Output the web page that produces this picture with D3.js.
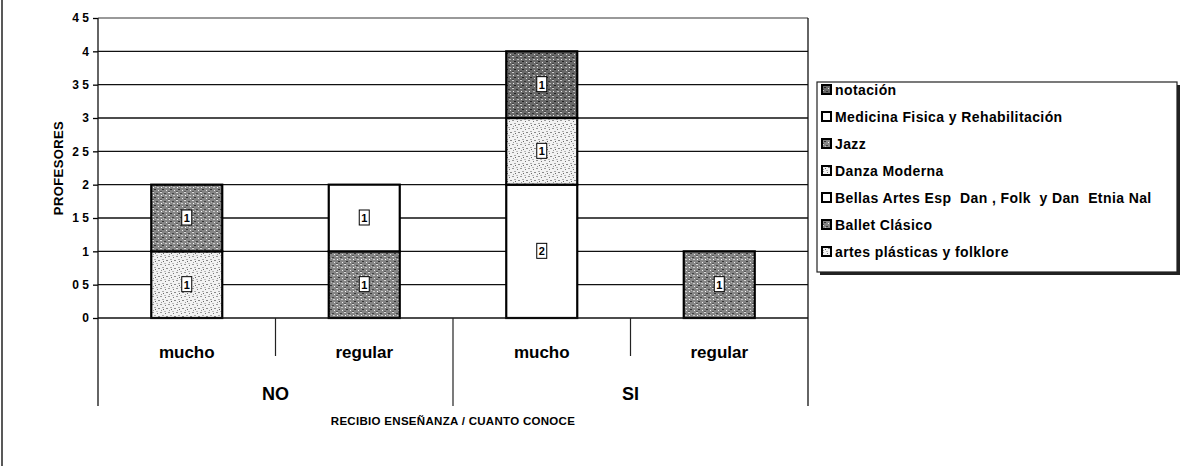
<!DOCTYPE html>
<html>
<head>
<meta charset="utf-8">
<script src="https://cdn.jsdelivr.net/npm/d3@7"></script>
<style>
  body { margin: 0; background: #fff; }
  svg { display: block; font-family: "Liberation Sans", Arial, sans-serif; }
  .tick text { font-weight: bold; }
  text { white-space: pre; }
</style>
</head>
<body>
<svg id="chart" width="1195" height="466"></svg>
<script>
// data
var groupNames = ["NO", "NO", "SI", "SI"];
var levelNames = ["mucho", "regular", "mucho", "regular"];
var seriesNames = [
    "artes plásticas y folklore",
    "Ballet Clásico",
    "Bellas Artes Esp  Dan , Folk  y Dan  Etnia Nal",
    "Danza Moderna",
    "Jazz",
    "Medicina Física y Rehabilitación",
    "notación"
];
var artesPlasticas = [1, 0, 0, 0];
var balletClasico  = [0, 1, 0, 1];
var bellasArtes    = [0, 0, 2, 0];
var danzaModerna   = [0, 0, 1, 0];
var jazz           = [1, 0, 0, 0];
var medicina       = [0, 1, 0, 0];
var notacion       = [0, 0, 1, 0];
var yTicks = [0, 0.5, 1, 1.5, 2, 2.5, 3, 3.5, 4, 4.5];
var yTickLabels = ["0", "0 5", "1", "1 5", "2", "2 5", "3", "3 5", "4", "4 5"];
var legendLabels = ["notación", "Medicina Fisica y Rehabilitación", "Jazz", "Danza Moderna",
    "Bellas Artes Esp  Dan , Folk  y Dan  Etnia Nal", "Ballet Clásico", "artes plásticas y folklore"];

var seriesValues = [artesPlasticas, balletClasico, bellasArtes, danzaModerna, jazz, medicina, notacion];
// fills per series: light speckle, dark, white, light speckle, dark, white, dark
var seriesFill = ["url(#light)", "url(#dark)", "#fff", "url(#light)", "url(#dark)", "#fff", "url(#dark2)"];

var svg = d3.select("#chart");

// patterns (fixed tiles, look of the scanned hatching)
var defs = svg.append("defs");
function makePattern(id, bg, dots) {
    var p = defs.append("pattern").attr("id", id)
        .attr("patternUnits", "userSpaceOnUse").attr("width", 8).attr("height", 8);
    p.append("rect").attr("width", 8).attr("height", 8).attr("fill", bg);
    dots.forEach(function(d) {
        p.append("rect").attr("x", d[0]).attr("y", d[1]).attr("width", d[2]).attr("height", 1)
            .attr("fill", d[3]);
    });
}
makePattern("light", "#f2f2f2", [[0,0,2,"#999"],[5,1,1,"#777"],[2,3,2,"#aaa"],[6,4,2,"#888"],[1,6,1,"#999"],[4,7,2,"#bbb"],[3,5,1,"#666"]]);
makePattern("dark", "#858585", [[0,0,2,"#ddd"],[4,1,2,"#444"],[1,3,1,"#fff"],[5,3,2,"#ccc"],[2,5,2,"#333"],[6,6,1,"#eee"],[0,7,2,"#555"],[3,2,1,"#bbb"]]);
makePattern("dark2", "#696969", [[0,0,2,"#ccc"],[4,1,2,"#333"],[1,3,1,"#eee"],[5,3,2,"#bbb"],[2,5,2,"#222"],[6,6,1,"#ddd"],[0,7,2,"#444"]]);

// page edge
svg.append("line").attr("x1", 2).attr("x2", 2).attr("y1", 0).attr("y2", 466)
    .attr("stroke", "#222").attr("stroke-width", 1.5);

// scales
var x = d3.scaleBand().domain(d3.range(4)).range([98, 808]).paddingInner(0.6).paddingOuter(0.3);
var y = d3.scaleLinear().domain([0, 4.5]).range([318, 18]);

// gridlines
svg.append("g").selectAll("line").data(yTicks.slice(1)).enter().append("line")
    .attr("x1", 98).attr("x2", 808)
    .attr("y1", function(d) { return y(d); }).attr("y2", function(d) { return y(d); })
    .attr("stroke", function(d) { return d == 4.5 ? "#777" : "#111"; })
    .attr("stroke-width", 1.3);

// stacked bars
var table = d3.range(4).map(function(i) {
    var row = { i: i };
    seriesNames.forEach(function(s, k) { row[s] = seriesValues[k][i]; });
    return row;
});
var stacked = d3.stack().keys(seriesNames)(table);

var layers = svg.append("g").selectAll("g").data(stacked).enter().append("g")
    .attr("fill", function(d, k) { return seriesFill[k]; });
layers.selectAll("rect").data(function(d) { return d.filter(function(p) { return p[1] - p[0] > 0; }); })
    .enter().append("rect")
    .attr("x", function(d) { return x(d.data.i); })
    .attr("width", x.bandwidth())
    .attr("y", function(d) { return y(d[1]); })
    .attr("height", function(d) { return y(d[0]) - y(d[1]); })
    .attr("stroke", "#000").attr("stroke-width", 2.2);

// value labels
var lab = svg.append("g").selectAll("g").data(stacked).enter().append("g")
    .selectAll("g").data(function(d) { return d.filter(function(p) { return p[1] - p[0] > 0; }); })
    .enter().append("g")
    .attr("transform", function(d) {
        return "translate(" + (x(d.data.i) + x.bandwidth() / 2) + "," + y((d[0] + d[1]) / 2) + ")";
    });
lab.append("rect").attr("x", -5).attr("y", -8).attr("width", 10).attr("height", 15)
    .attr("fill", "#fff").attr("stroke", "#000").attr("stroke-width", 1);
lab.append("text").attr("text-anchor", "middle").attr("dy", "0.35em")
    .style("font-size", "11px").style("font-weight", "bold")
    .text(function(d) { return d[1] - d[0]; });

// y axis
var yAxis = svg.append("g").attr("transform", "translate(98,0)")
    .call(d3.axisLeft(y).tickValues(yTicks).tickSize(5).tickPadding(4)
        .tickFormat(function(d, i) { return yTickLabels[i]; }));
yAxis.select(".domain").remove();
yAxis.selectAll(".tick line").attr("stroke", "#000").attr("stroke-width", 1.3);
yAxis.selectAll(".tick text").style("font-size", "12px").attr("fill", "#000");

// plot frame lines
svg.append("line").attr("x1", 98).attr("x2", 98).attr("y1", 18).attr("y2", 406)
    .attr("stroke", "#111").attr("stroke-width", 1.3);
svg.append("line").attr("x1", 808).attr("x2", 808).attr("y1", 18).attr("y2", 406)
    .attr("stroke", "#111").attr("stroke-width", 1.3);
svg.append("line").attr("x1", 98).attr("x2", 808).attr("y1", y(0)).attr("y2", y(0))
    .attr("stroke", "#111").attr("stroke-width", 1.5);

// category separators
var x0 = x.range()[0];
var step = x.step();
[1, 3].forEach(function(b) {
    svg.append("line").attr("x1", x0 + b * step).attr("x2", x0 + b * step)
        .attr("y1", y(0)).attr("y2", 356).attr("stroke", "#222").attr("stroke-width", 1.2);
});
svg.append("line").attr("x1", x0 + 2 * step).attr("x2", x0 + 2 * step)
    .attr("y1", y(0)).attr("y2", 406).attr("stroke", "#222").attr("stroke-width", 1.2);

// category labels
svg.append("g").selectAll("text").data(levelNames).enter().append("text")
    .attr("x", function(d, i) { return x(i) + x.bandwidth() / 2; })
    .attr("y", 358).attr("text-anchor", "middle")
    .style("font-size", "17px").style("font-weight", "bold")
    .text(function(d) { return d; });
svg.append("g").selectAll("text").data([groupNames[0], groupNames[2]]).enter().append("text")
    .attr("x", function(d, i) { return x0 + step * (2 * i + 1); })
    .attr("y", 400).attr("text-anchor", "middle")
    .style("font-size", "18px").style("font-weight", "bold")
    .text(function(d) { return d; });

// axis titles
svg.append("text").attr("x", 453).attr("y", 425).attr("text-anchor", "middle")
    .style("font-size", "11.5px").style("font-weight", "bold").style("letter-spacing", "0.3px")
    .text("RECIBIO ENSEÑANZA / CUANTO CONOCE");
svg.append("text").attr("transform", "translate(63,168) rotate(-90)").attr("text-anchor", "middle")
    .style("font-size", "13px").style("font-weight", "bold").style("letter-spacing", "0.4px")
    .text("PROFESORES");

// legend
var legX = 817, legY = 82, legW = 360, legH = 190;
var legend = svg.append("g").attr("transform", "translate(" + legX + "," + legY + ")");
legend.append("rect").attr("x", 3).attr("y", 3).attr("width", legW).attr("height", legH).attr("fill", "#222");
legend.append("rect").attr("width", legW).attr("height", legH)
    .attr("fill", "#fff").attr("stroke", "#222").attr("stroke-width", 1.2);
var items = legend.selectAll("g.item").data(legendLabels).enter().append("g")
    .attr("class", "item")
    .attr("transform", function(d, i) { return "translate(5," + (8 + i * 27) + ")"; });
items.append("rect").attr("width", 9).attr("height", 9).attr("y", -5)
    .attr("fill", function(d, i) { return seriesFill[seriesFill.length - 1 - i]; })
    .attr("stroke", "#000").attr("stroke-width", 2);
items.append("text").attr("x", 13).attr("dy", "0.35em")
    .style("font-size", "14px").style("font-weight", "bold").style("letter-spacing", "0.4px")
    .text(function(d) { return d; });
</script>
</body>
</html>
